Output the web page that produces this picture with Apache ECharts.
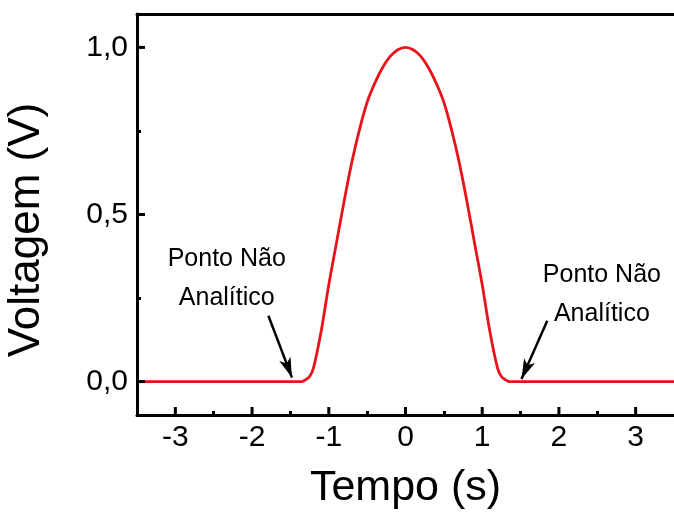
<!DOCTYPE html>
<html>
<head>
<meta charset="utf-8">
<script src="https://cdn.jsdelivr.net/npm/echarts@6/dist/echarts.min.js"></script>
<style>
  html, body { margin: 0; padding: 0; background: #ffffff; }
  #chart { width: 674px; height: 518px; }
</style>
</head>
<body>
<div id="chart"></div>
<script>
// Pulse voltage against time (values read at half-width steps, symmetric about t = 0)
var tempo = [-3.5, -1.4, -1.35, -1.3, -1.25, -1.2, -1.1, -1.0, -0.9, -0.8, -0.7, -0.6, -0.5, -0.4, -0.3, -0.2, -0.1, 0,
             0.1, 0.2, 0.3, 0.4, 0.5, 0.6, 0.7, 0.8, 0.9, 1.0, 1.1, 1.2, 1.25, 1.3, 1.35, 1.4, 3.5];
var voltagem = [0, 0, 0, 0.006, 0.015, 0.04, 0.15, 0.29, 0.415, 0.54, 0.656, 0.754, 0.836, 0.893, 0.939, 0.973, 0.993, 1.0,
                0.993, 0.973, 0.939, 0.893, 0.836, 0.754, 0.656, 0.54, 0.415, 0.29, 0.15, 0.04, 0.015, 0.006, 0, 0, 0];

// Axis ranges and ticks
var X_MIN = -3.5, X_MAX = 3.5, Y_MIN = -0.1, Y_MAX = 1.1;
var xTicks = [-3, -2, -1, 0, 1, 2, 3];
var xMinorTicks = [-2.5, -1.5, -0.5, 0.5, 1.5, 2.5];
var yTicks = [0, 0.5, 1.0];
var yMinorTicks = [0.25, 0.75];

// Annotations: arrow [tail, tip] and label anchors
var arrowLeft = [[-1.787, 0.197], [-1.48, 0.012]];
var arrowRight = [[1.848, 0.182], [1.512, 0.008]];
var noteText = 'Ponto Não\nAnalítico';
var noteLeft = [-2.33, 0.309];
var noteRight = [2.56, 0.26];

var FONT = 'Arial, "Liberation Sans", sans-serif';
var MAJOR_LEN = 8;
var chart = echarts.init(document.getElementById('chart'));

function fmt(v) { return v.toFixed(1).replace('.', ','); }

// value axis that only draws inward ticks at the given positions
function tickAxis(min, max, pos, values, len) {
  return {
    type: 'value', min: min, max: max, position: pos,
    axisLine: { show: false, onZero: false },
    axisTick: { show: true, inside: true, length: len, customValues: values, lineStyle: { color: '#000', width: 3 } },
    axisLabel: { show: false }, splitLine: { show: false }
  };
}

// major ticks drawn as short inward strokes from the frame at each tick value
function majorTickSeries(values, onX) {
  return {
    type: 'custom', silent: true, z: 5, clip: false,
    xAxisIndex: 0, yAxisIndex: 0,
    data: values.map(function (v) { return onX ? [v, Y_MIN] : [X_MIN, v]; }),
    renderItem: function (params, api) {
      var p = api.coord([api.value(0), api.value(1)]);
      var shape = onX
        ? { x1: p[0], y1: p[1], x2: p[0], y2: p[1] - MAJOR_LEN }
        : { x1: p[0], y1: p[1], x2: p[0] + MAJOR_LEN, y2: p[1] };
      return { type: 'line', shape: shape, style: { stroke: '#000', lineWidth: 3 } };
    }
  };
}

chart.setOption({
  animation: false,
  backgroundColor: '#ffffff',
  grid: { left: 137, top: 14, width: 542.5, height: 401 },
  xAxis: [
    {
      type: 'value', min: X_MIN, max: X_MAX, position: 'bottom',
      axisLine: { show: true, onZero: false, lineStyle: { color: '#000', width: 3 } },
      axisTick: { show: false },
      axisLabel: { customValues: xTicks, color: '#000', fontFamily: FONT, fontSize: 30, margin: 8,
                   formatter: function (v) { return String(v); } },
      splitLine: { show: false },
      name: 'Tempo (s)', nameLocation: 'middle', nameGap: 52,
      nameTextStyle: { color: '#000', fontFamily: FONT, fontSize: 43 }
    },
    tickAxis(X_MIN, X_MAX, 'bottom', xMinorTicks, 4),
    {
      type: 'value', min: X_MIN, max: X_MAX, position: 'top',
      axisLine: { show: true, onZero: false, lineStyle: { color: '#000', width: 3 } },
      axisTick: { show: false }, axisLabel: { show: false }, splitLine: { show: false }
    }
  ],
  yAxis: [
    {
      type: 'value', min: Y_MIN, max: Y_MAX, position: 'left',
      axisLine: { show: true, onZero: false, lineStyle: { color: '#000', width: 3 } },
      axisTick: { show: false },
      axisLabel: { customValues: yTicks, color: '#000', fontFamily: FONT, fontSize: 30, margin: 9, formatter: fmt },
      splitLine: { show: false }
    },
    tickAxis(Y_MIN, Y_MAX, 'left', yMinorTicks, 4)
  ],
  graphic: [{
    type: 'text', x: 27, y: 230, rotation: Math.PI / 2,
    style: { text: 'Voltagem (V)', fill: '#000', font: '44px ' + FONT, align: 'center', verticalAlign: 'middle' }
  }],
  series: [
    {
      type: 'line',
      xAxisIndex: 0, yAxisIndex: 0,
      data: tempo.map(function (t, i) { return [t, voltagem[i]]; }),
      smooth: 0.35,
      showSymbol: false,
      lineStyle: { color: '#e8141c', width: 2.8 },
      markLine: {
        silent: true, animation: false,
        symbol: ['none', 'arrow'], symbolSize: [9, 20],
        lineStyle: { color: '#000', width: 2.5, type: 'solid' },
        label: { show: false },
        data: [
          [{ coord: arrowLeft[0] }, { coord: arrowLeft[1] }],
          [{ coord: arrowRight[0] }, { coord: arrowRight[1] }]
        ]
      },
      markPoint: {
        silent: true, animation: false,
        symbol: 'circle', symbolSize: 0,
        label: { show: true, position: 'inside', color: '#000', fontFamily: FONT, fontSize: 25, lineHeight: 39,
                 align: 'center', verticalAlign: 'middle', formatter: noteText },
        data: [{ coord: noteLeft }, { coord: noteRight }]
      }
    },
    majorTickSeries(xTicks, true),
    majorTickSeries(yTicks, false)
  ]
});
</script>
</body>
</html>
